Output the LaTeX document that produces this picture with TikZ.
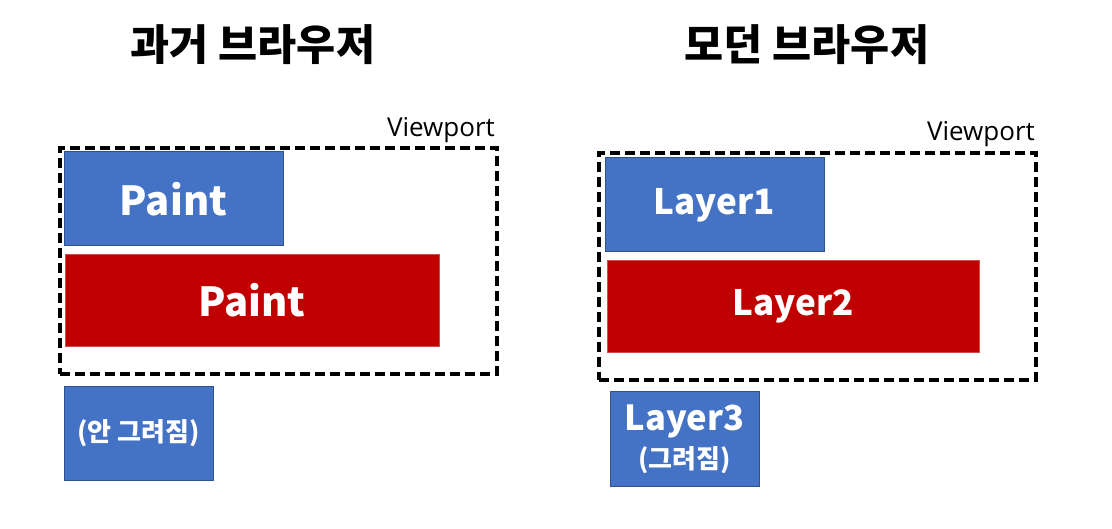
\documentclass[tikz,border=0pt]{standalone}
\usepackage{fontspec}
\setmainfont{Noto Sans CJK KR}
\newfontfamily\vpfont{Open Sans}
\usetikzlibrary{positioning}
\definecolor{paintblue}{HTML}{4472C4}
\definecolor{blueedge}{HTML}{2F528F}
\definecolor{paintred}{HTML}{C00000}
\tikzset{
    viewport/.style={draw=black, line width=4pt, dash pattern=on 10pt off 5pt, inner sep=0pt},
    vplabel/.style={anchor=base east, inner sep=0pt, font=\vpfont\fontsize{26}{26}\selectfont},
    bluebox/.style={fill=paintblue, draw=blueedge, line width=1pt, text=white, inner sep=0pt, align=center},
    redbox/.style={fill=paintred, draw=paintred!70!white, line width=0.6pt, text=white, inner sep=0pt, font=\bfseries},
    title/.style={font=\bfseries\fontsize{42.5}{42.5}\selectfont, inner sep=0pt}
}
\begin{document}
\begin{tikzpicture}[x=1pt, y=-1pt]
    \useasboundingbox (0, 0) rectangle (1112, 529);
    % titles
    \node[title] (oldtitle) at (253, 45){과거 브라우저};
    \node[title] (newtitle) at (807, 45){모던 브라우저};

    % old browser
    \node[viewport, minimum width=437pt, minimum height=226pt] (oldview) at (278.5, 261){};
        \node[vplabel] (oldvplabel) at (495, 137){Viewport};
    \node[bluebox, minimum width=219pt, minimum height=94pt, font=\bfseries\fontsize{40}{40}\selectfont] (oldpaint) at (173.5, 199){Paint};
    \node[redbox, minimum width=374pt, minimum height=92pt, font=\bfseries\fontsize{40}{40}\selectfont] (oldpainttwo) at (252, 300){Paint};
    \node[bluebox, minimum width=149pt, minimum height=93pt, font=\bfseries\fontsize{26}{26}\selectfont] (oldhidden) at (138.5, 433.5){(안 그려짐)};

    % modern browser
    \node[viewport, minimum width=437pt, minimum height=227pt] (newview) at (817.5, 266.5){};
        \node[vplabel] (newvplabel) at (1035, 141){Viewport};
    \node[bluebox, minimum width=219pt, minimum height=94pt, font=\bfseries\fontsize{35}{35}\selectfont] (layerone) at (714.5, 205){Layer1};
    \node[redbox, minimum width=372pt, minimum height=92pt, font=\bfseries\fontsize{35}{35}\selectfont] (layertwo) at (793, 306){Layer2};
    \node[bluebox, minimum width=149pt, minimum height=94pt, font=\bfseries\fontsize{34.5}{38}\selectfont] (layerthree) at (684.5, 439){Layer3\\{\fontsize{26}{30}\selectfont (그려짐)}};
\end{tikzpicture}
\end{document}
